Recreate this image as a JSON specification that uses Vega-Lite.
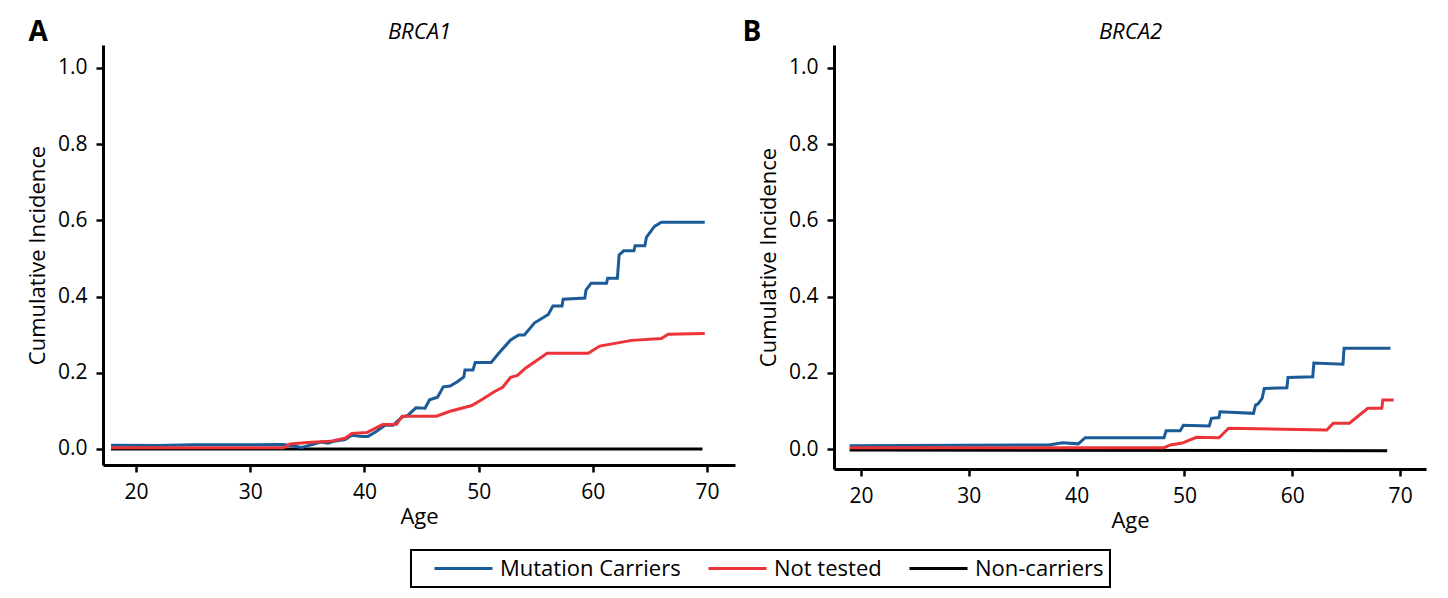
{
  "$schema": "https://vega.github.io/schema/vega-lite/v6.json",
  "background": "white",
  "padding": {"left": 26, "top": 19, "right": 10, "bottom": 5},
  "datasets": {
    "brca1": [
      {"age": 17.8, "ci": 0.010, "group": "Mutation Carriers"},
      {"age": 22.0, "ci": 0.009, "group": "Mutation Carriers"},
      {"age": 25.0, "ci": 0.011, "group": "Mutation Carriers"},
      {"age": 30.0, "ci": 0.011, "group": "Mutation Carriers"},
      {"age": 32.9, "ci": 0.012, "group": "Mutation Carriers"},
      {"age": 33.8, "ci": 0.008, "group": "Mutation Carriers"},
      {"age": 34.5, "ci": 0.004, "group": "Mutation Carriers"},
      {"age": 35.5, "ci": 0.012, "group": "Mutation Carriers"},
      {"age": 36.2, "ci": 0.018, "group": "Mutation Carriers"},
      {"age": 36.8, "ci": 0.015, "group": "Mutation Carriers"},
      {"age": 37.3, "ci": 0.020, "group": "Mutation Carriers"},
      {"age": 38.3, "ci": 0.025, "group": "Mutation Carriers"},
      {"age": 38.9, "ci": 0.036, "group": "Mutation Carriers"},
      {"age": 39.8, "ci": 0.033, "group": "Mutation Carriers"},
      {"age": 40.3, "ci": 0.033, "group": "Mutation Carriers"},
      {"age": 41.0, "ci": 0.045, "group": "Mutation Carriers"},
      {"age": 41.8, "ci": 0.062, "group": "Mutation Carriers"},
      {"age": 42.5, "ci": 0.062, "group": "Mutation Carriers"},
      {"age": 43.3, "ci": 0.084, "group": "Mutation Carriers"},
      {"age": 43.8, "ci": 0.088, "group": "Mutation Carriers"},
      {"age": 44.5, "ci": 0.108, "group": "Mutation Carriers"},
      {"age": 45.3, "ci": 0.107, "group": "Mutation Carriers"},
      {"age": 45.7, "ci": 0.129, "group": "Mutation Carriers"},
      {"age": 46.4, "ci": 0.136, "group": "Mutation Carriers"},
      {"age": 46.9, "ci": 0.163, "group": "Mutation Carriers"},
      {"age": 47.5, "ci": 0.165, "group": "Mutation Carriers"},
      {"age": 48.1, "ci": 0.176, "group": "Mutation Carriers"},
      {"age": 48.7, "ci": 0.189, "group": "Mutation Carriers"},
      {"age": 48.8, "ci": 0.207, "group": "Mutation Carriers"},
      {"age": 49.5, "ci": 0.207, "group": "Mutation Carriers"},
      {"age": 49.7, "ci": 0.227, "group": "Mutation Carriers"},
      {"age": 51.1, "ci": 0.227, "group": "Mutation Carriers"},
      {"age": 51.7, "ci": 0.249, "group": "Mutation Carriers"},
      {"age": 52.8, "ci": 0.286, "group": "Mutation Carriers"},
      {"age": 53.5, "ci": 0.299, "group": "Mutation Carriers"},
      {"age": 54.0, "ci": 0.299, "group": "Mutation Carriers"},
      {"age": 54.9, "ci": 0.331, "group": "Mutation Carriers"},
      {"age": 56.1, "ci": 0.353, "group": "Mutation Carriers"},
      {"age": 56.5, "ci": 0.375, "group": "Mutation Carriers"},
      {"age": 57.3, "ci": 0.375, "group": "Mutation Carriers"},
      {"age": 57.4, "ci": 0.393, "group": "Mutation Carriers"},
      {"age": 59.3, "ci": 0.396, "group": "Mutation Carriers"},
      {"age": 59.4, "ci": 0.417, "group": "Mutation Carriers"},
      {"age": 59.85, "ci": 0.435, "group": "Mutation Carriers"},
      {"age": 61.2, "ci": 0.435, "group": "Mutation Carriers"},
      {"age": 61.3, "ci": 0.448, "group": "Mutation Carriers"},
      {"age": 62.15, "ci": 0.448, "group": "Mutation Carriers"},
      {"age": 62.3, "ci": 0.509, "group": "Mutation Carriers"},
      {"age": 62.7, "ci": 0.520, "group": "Mutation Carriers"},
      {"age": 63.6, "ci": 0.520, "group": "Mutation Carriers"},
      {"age": 63.7, "ci": 0.533, "group": "Mutation Carriers"},
      {"age": 64.55, "ci": 0.533, "group": "Mutation Carriers"},
      {"age": 64.7, "ci": 0.556, "group": "Mutation Carriers"},
      {"age": 65.4, "ci": 0.584, "group": "Mutation Carriers"},
      {"age": 66.0, "ci": 0.595, "group": "Mutation Carriers"},
      {"age": 69.8, "ci": 0.595, "group": "Mutation Carriers"},
      {"age": 17.8, "ci": 0.003, "group": "Not tested"},
      {"age": 25.0, "ci": 0.003, "group": "Not tested"},
      {"age": 32.9, "ci": 0.003, "group": "Not tested"},
      {"age": 33.5, "ci": 0.013, "group": "Not tested"},
      {"age": 35.0, "ci": 0.017, "group": "Not tested"},
      {"age": 37.0, "ci": 0.020, "group": "Not tested"},
      {"age": 38.3, "ci": 0.028, "group": "Not tested"},
      {"age": 38.9, "ci": 0.041, "group": "Not tested"},
      {"age": 40.2, "ci": 0.043, "group": "Not tested"},
      {"age": 41.6, "ci": 0.064, "group": "Not tested"},
      {"age": 42.8, "ci": 0.065, "group": "Not tested"},
      {"age": 43.3, "ci": 0.086, "group": "Not tested"},
      {"age": 46.3, "ci": 0.086, "group": "Not tested"},
      {"age": 47.5, "ci": 0.099, "group": "Not tested"},
      {"age": 49.4, "ci": 0.114, "group": "Not tested"},
      {"age": 50.4, "ci": 0.132, "group": "Not tested"},
      {"age": 51.4, "ci": 0.151, "group": "Not tested"},
      {"age": 52.1, "ci": 0.162, "group": "Not tested"},
      {"age": 52.8, "ci": 0.188, "group": "Not tested"},
      {"age": 53.4, "ci": 0.193, "group": "Not tested"},
      {"age": 54.1, "ci": 0.212, "group": "Not tested"},
      {"age": 56.0, "ci": 0.251, "group": "Not tested"},
      {"age": 59.6, "ci": 0.251, "group": "Not tested"},
      {"age": 60.6, "ci": 0.270, "group": "Not tested"},
      {"age": 63.4, "ci": 0.285, "group": "Not tested"},
      {"age": 66.0, "ci": 0.290, "group": "Not tested"},
      {"age": 66.6, "ci": 0.301, "group": "Not tested"},
      {"age": 69.8, "ci": 0.303, "group": "Not tested"},
      {"age": 17.8, "ci": 0.0, "group": "Non-carriers"},
      {"age": 69.6, "ci": 0.0, "group": "Non-carriers"}
    ],
    "brca2": [
      {"age": 18.95, "ci": 0.009, "group": "Mutation Carriers"},
      {"age": 37.4, "ci": 0.011, "group": "Mutation Carriers"},
      {"age": 38.7, "ci": 0.017, "group": "Mutation Carriers"},
      {"age": 40.15, "ci": 0.014, "group": "Mutation Carriers"},
      {"age": 40.8, "ci": 0.030, "group": "Mutation Carriers"},
      {"age": 48.1, "ci": 0.030, "group": "Mutation Carriers"},
      {"age": 48.3, "ci": 0.048, "group": "Mutation Carriers"},
      {"age": 49.6, "ci": 0.048, "group": "Mutation Carriers"},
      {"age": 49.9, "ci": 0.063, "group": "Mutation Carriers"},
      {"age": 52.3, "ci": 0.061, "group": "Mutation Carriers"},
      {"age": 52.5, "ci": 0.081, "group": "Mutation Carriers"},
      {"age": 53.2, "ci": 0.083, "group": "Mutation Carriers"},
      {"age": 53.3, "ci": 0.098, "group": "Mutation Carriers"},
      {"age": 56.4, "ci": 0.094, "group": "Mutation Carriers"},
      {"age": 56.6, "ci": 0.116, "group": "Mutation Carriers"},
      {"age": 56.8, "ci": 0.118, "group": "Mutation Carriers"},
      {"age": 57.2, "ci": 0.133, "group": "Mutation Carriers"},
      {"age": 57.4, "ci": 0.159, "group": "Mutation Carriers"},
      {"age": 59.5, "ci": 0.161, "group": "Mutation Carriers"},
      {"age": 59.6, "ci": 0.188, "group": "Mutation Carriers"},
      {"age": 61.9, "ci": 0.190, "group": "Mutation Carriers"},
      {"age": 62.0, "ci": 0.226, "group": "Mutation Carriers"},
      {"age": 64.7, "ci": 0.223, "group": "Mutation Carriers"},
      {"age": 64.8, "ci": 0.265, "group": "Mutation Carriers"},
      {"age": 69.1, "ci": 0.265, "group": "Mutation Carriers"},
      {"age": 18.95, "ci": 0.004, "group": "Not tested"},
      {"age": 48.1, "ci": 0.004, "group": "Not tested"},
      {"age": 48.7, "ci": 0.011, "group": "Not tested"},
      {"age": 49.8, "ci": 0.016, "group": "Not tested"},
      {"age": 51.1, "ci": 0.031, "group": "Not tested"},
      {"age": 53.2, "ci": 0.030, "group": "Not tested"},
      {"age": 54.1, "ci": 0.055, "group": "Not tested"},
      {"age": 63.2, "ci": 0.050, "group": "Not tested"},
      {"age": 63.8, "ci": 0.068, "group": "Not tested"},
      {"age": 65.3, "ci": 0.068, "group": "Not tested"},
      {"age": 67.0, "ci": 0.107, "group": "Not tested"},
      {"age": 68.3, "ci": 0.107, "group": "Not tested"},
      {"age": 68.4, "ci": 0.129, "group": "Not tested"},
      {"age": 69.4, "ci": 0.129, "group": "Not tested"},
      {"age": 18.95, "ci": -0.002, "group": "Non-carriers"},
      {"age": 68.8, "ci": -0.004, "group": "Non-carriers"}
    ]
  },
  "spacing": 7,
  "hconcat": [
    {
      "width": 632,
      "height": 420,
      "title": {"text": "A", "anchor": "start", "frame": "bounds", "fontSize": 28, "fontWeight": "bold", "offset": -27, "dx": 2},
      "data": {"name": "brca1"},
      "encoding": {
        "y": {"field": "ci", "type": "quantitative",
              "scale": {"domain": [-0.042, 1.06], "nice": false, "zero": false},
              "axis": {"title": "Cumulative Incidence", "values": [0, 0.2, 0.4, 0.6, 0.8, 1.0], "format": ".1f", "titlePadding": 8}},
        "color": {"field": "group", "type": "nominal",
                  "scale": {"domain": ["Mutation Carriers", "Not tested", "Non-carriers"], "range": ["#1b5b98", "#ec3338", "#000000"]},
                  "legend": {"title": null, "orient": "none", "legendX": 308, "legendY": 505, "direction": "horizontal",
                             "symbolType": "stroke", "symbolSize": 3364, "symbolStrokeWidth": 3, "clipHeight": 25,
                             "symbolOffset": 16, "labelOffset": 6, "columnPadding": 10, "padding": 6, "labelLimit": 400,
                             "labelFontSize": 22, "labelFont": "Open Sans", "labelColor": "black",
                             "strokeColor": "black", "fillColor": "white",
                             "encode": {"legend": {"update": {"strokeWidth": {"value": 2}}}}}}
      },
      "layer": [
        {
          "transform": [{"filter": "datum.group === 'Non-carriers'"}],
          "mark": {"type": "line", "strokeWidth": 3},
          "encoding": {
            "x": {"field": "age", "type": "quantitative",
                  "scale": {"domain": [17.1, 72.45], "nice": false, "zero": false},
                  "axis": {"orient": "top", "title": "BRCA1", "titleFontStyle": "italic", "labels": false, "ticks": false, "domain": false, "titlePadding": 2}}
          }
        },
        {
          "transform": [{"filter": "datum.group !== 'Non-carriers'"}],
          "mark": {"type": "line", "strokeWidth": 3},
          "encoding": {
            "x": {"field": "age", "type": "quantitative",
                  "scale": {"domain": [17.1, 72.45], "nice": false, "zero": false},
                  "axis": {"orient": "bottom", "title": "Age", "values": [20, 30, 40, 50, 60, 70], "titlePadding": 4}}
          }
        }
      ],
      "resolve": {"axis": {"x": "independent"}}
    },
    {
      "width": 592,
      "height": 424,
      "title": {"text": "B", "anchor": "start", "frame": "bounds", "fontSize": 28, "fontWeight": "bold", "offset": -27, "dx": -15},
      "data": {"name": "brca2"},
      "encoding": {
        "y": {"field": "ci", "type": "quantitative",
              "scale": {"domain": [-0.052, 1.06], "nice": false, "zero": false},
              "axis": {"title": "Cumulative Incidence", "values": [0, 0.2, 0.4, 0.6, 0.8, 1.0], "format": ".1f", "titlePadding": 8}},
        "color": {"field": "group", "type": "nominal",
                  "scale": {"domain": ["Mutation Carriers", "Not tested", "Non-carriers"], "range": ["#1b5b98", "#ec3338", "#000000"]},
                  "legend": {"title": null, "orient": "none", "legendX": 308, "legendY": 505, "direction": "horizontal",
                             "symbolType": "stroke", "symbolSize": 3364, "symbolStrokeWidth": 3, "clipHeight": 25,
                             "symbolOffset": 16, "labelOffset": 6, "columnPadding": 10, "padding": 6, "labelLimit": 400,
                             "labelFontSize": 22, "labelFont": "Open Sans", "labelColor": "black",
                             "strokeColor": "black", "fillColor": "white",
                             "encode": {"legend": {"update": {"strokeWidth": {"value": 2}}}}}}
      },
      "layer": [
        {
          "transform": [{"filter": "datum.group === 'Non-carriers'"}],
          "mark": {"type": "line", "strokeWidth": 3},
          "encoding": {
            "x": {"field": "age", "type": "quantitative",
                  "scale": {"domain": [17.5, 72.4], "nice": false, "zero": false},
                  "axis": {"orient": "top", "title": "BRCA2", "titleFontStyle": "italic", "labels": false, "ticks": false, "domain": false, "titlePadding": 2}}
          }
        },
        {
          "transform": [{"filter": "datum.group !== 'Non-carriers'"}],
          "mark": {"type": "line", "strokeWidth": 3},
          "encoding": {
            "x": {"field": "age", "type": "quantitative",
                  "scale": {"domain": [17.5, 72.4], "nice": false, "zero": false},
                  "axis": {"orient": "bottom", "title": "Age", "values": [20, 30, 40, 50, 60, 70], "titlePadding": 4}}
          }
        }
      ],
      "resolve": {"axis": {"x": "independent"}}
    }
  ],
  "resolve": {"scale": {"color": "shared", "x": "independent", "y": "independent"}, "legend": {"color": "shared"}},
  "config": {
    "view": {"stroke": null},
    "font": "Open Sans",
    "title": {"font": "Open Sans", "color": "black"},
    "axis": {
      "grid": false,
      "domainColor": "black", "domainWidth": 3,
      "tickColor": "black", "tickWidth": 2.5, "tickSize": 7,
      "labelFont": "Open Sans", "labelFontSize": 21, "labelColor": "black", "labelPadding": 9,
      "titleFont": "Open Sans", "titleFontSize": 22, "titleFontWeight": "normal", "titleColor": "black"
    }
  }
}
